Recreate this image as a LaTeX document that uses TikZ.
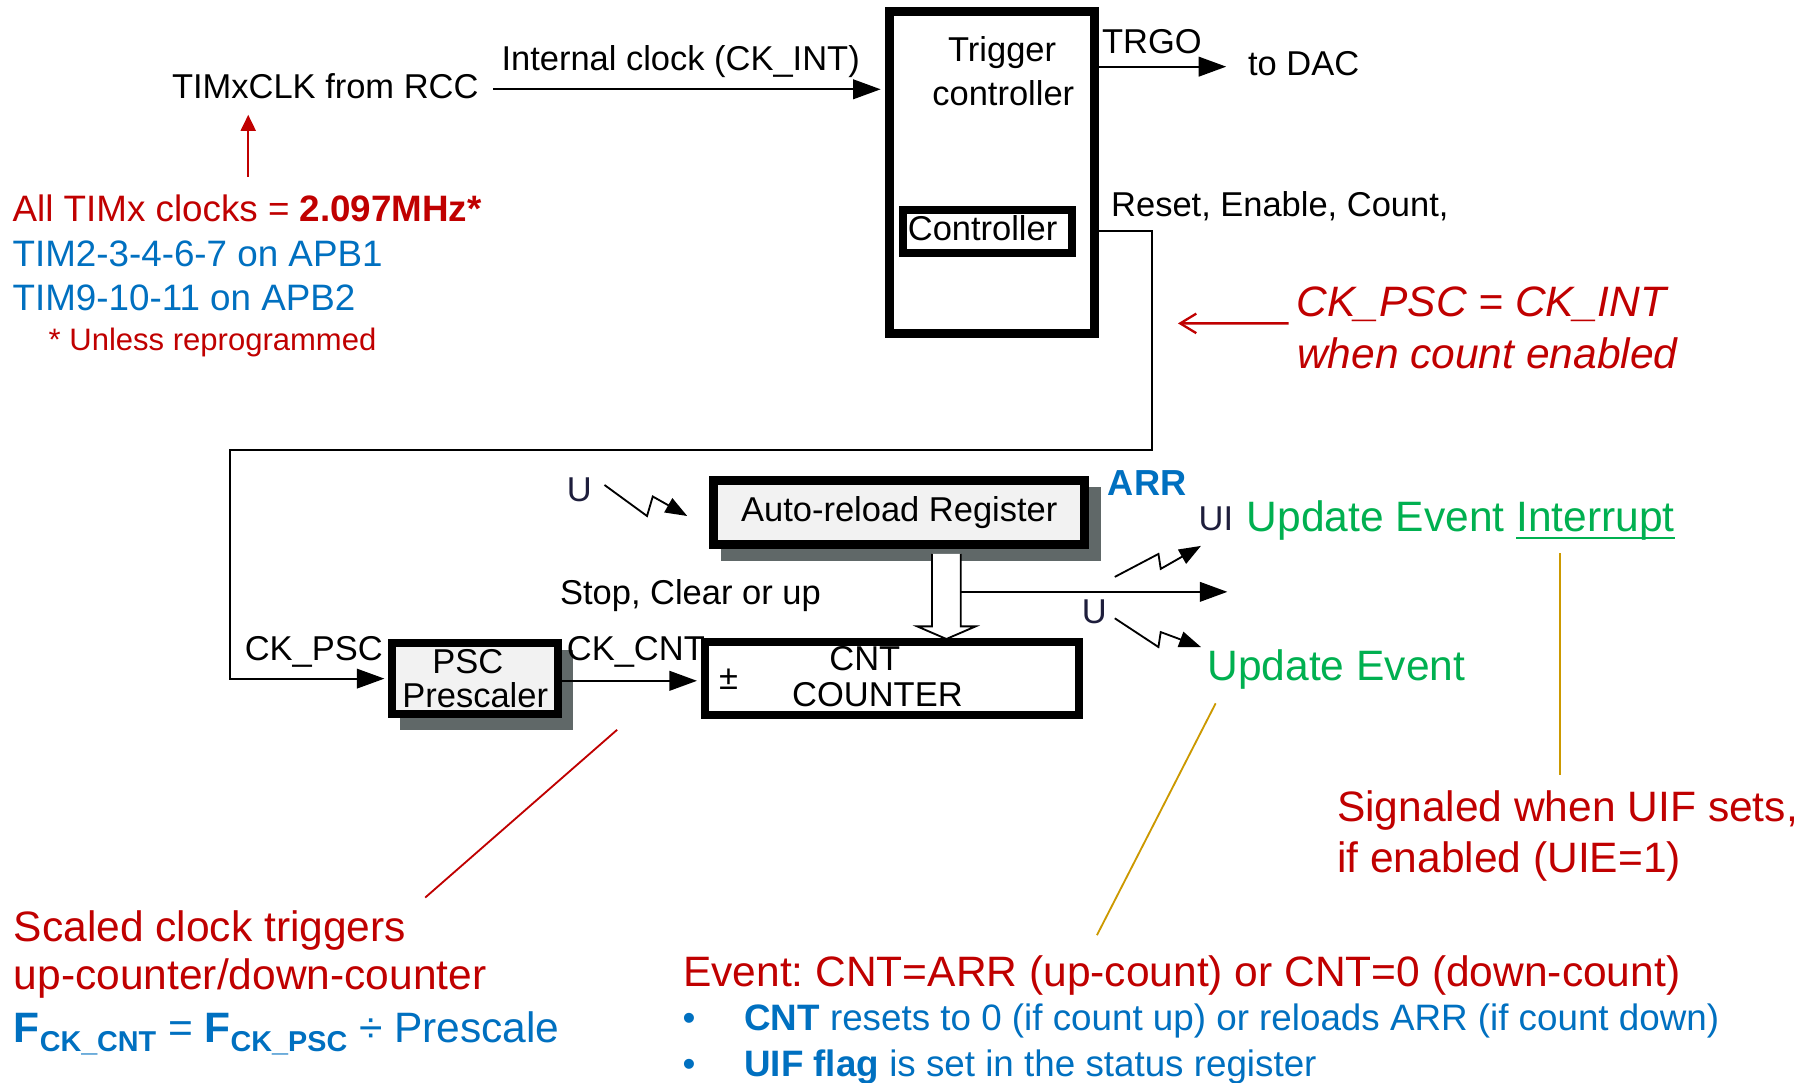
\documentclass[tikz,border=0pt]{standalone}
\usepackage{fontspec}
\setmainfont{Liberation Sans}
\usetikzlibrary{arrows.meta,shadows,calc}
\definecolor{annred}{RGB}{192,0,0}
\definecolor{annblue}{RGB}{0,112,192}
\definecolor{anngreen}{RGB}{0,176,80}
\definecolor{leadgold}{RGB}{204,153,0}
\definecolor{shadegray}{RGB}{96,104,104}
\definecolor{boxfill}{RGB}{242,242,242}
\definecolor{navy}{RGB}{30,30,60}
\newcommand\szDgm{\fontsize{30}{36}\selectfont}
\newcommand\szAnn{\fontsize{37}{44}\selectfont}
\newcommand\szBlue{\fontsize{32}{38}\selectfont}
\newcommand\szNote{\fontsize{27}{32}\selectfont}
\newcommand\szSub{\fontsize{25}{30}\selectfont}
\frenchspacing
\begin{document}
\begin{tikzpicture}[x=1pt,y=-1pt,
  lbl/.style={inner sep=0pt, outer sep=0pt},
  dgm/.style={lbl, font=\szDgm, text=black},
  ann/.style={lbl, font=\szAnn},
  note/.style={lbl, font=\szBlue},
  blockbox/.style={draw=black, fill=white, inner sep=0pt, line width=7pt},
  boxshadow/.style={copy shadow={shadow xshift=10pt, shadow yshift=-10pt, fill=shadegray, draw=shadegray}},
  wire/.style={draw=black, line width=2pt},
  feed/.style={draw=black, line width=1.7pt},
  tipped/.style={-{Triangle[length=24pt,width=17pt]}},
  bolt/.style={draw=black, line width=1.6pt, -{Triangle[length=19pt,width=14pt]}},
  leader/.style={line width=1.6pt},
]
\fill[white] (0,0) rectangle (1568,942);
\useasboundingbox (0,0) rectangle (1568,942);

% ---------- blocks ----------
\node[blockbox, line width=7.5pt, minimum width=178.5pt, minimum height=280.5pt] (trig) at (863,150) {};
\node[blockbox, minimum width=147pt, minimum height=37pt] (ctrl) at (859,201.4) {};
\node[blockbox, boxshadow, fill=boxfill, line width=8pt, minimum width=323pt, minimum height=56pt] (arr) at (782.5,446) {};
\node[blockbox, boxshadow, fill=boxfill, minimum width=144pt, minimum height=62pt] (psc) at (413.5,590.5) {};
\node[blockbox, minimum width=325pt, minimum height=63pt] (cnt) at (776,590.4) {};

\node[dgm, anchor=base] (trigA) at (872,53.7) {Trigger};
\node[dgm, anchor=base] (trigB) at (873,91.4) {controller};
\node[dgm, anchor=base] (ctrltxt) at (855,209) {Controller};
\node[dgm, anchor=base] (arrtxt) at (782.5,454) {Auto-reload Register};
\node[dgm, anchor=base] (psctxtA) at (407,586) {PSC};
\node[dgm, anchor=base] (psctxtB) at (413.5,616) {Prescaler};
\node[dgm, anchor=base] (cnttxtA) at (752.5,583) {CNT};
\node[dgm, anchor=base] (cnttxtB) at (763.5,615) {COUNTER};
\node[dgm, anchor=base] (pm) at (634,600) {±};

% ---------- clock input ----------
\node[dgm, anchor=base west] (clk) at (149.7,85.6) {TIMxCLK from RCC};
\node[dgm, anchor=base west] (ckint) at (436.4,61) {Internal clock (CK\_INT)};
\coordinate (clkport) at (429,77.7);
\draw[wire, tipped, shorten >=3.7pt] (clkport) -- (clkport -| trig.west);

% ---------- trigger output ----------
\coordinate (dacport) at (1067,58);
\draw[wire, tipped] (trig.east |- dacport) -- (dacport);
\node[dgm, anchor=base west] (trgo) at (959,46.4) {TRGO};
\node[dgm, anchor=base west] (dac) at (1086,66.1) {to DAC};

% ---------- controller to prescaler ----------
\node[dgm, anchor=base west] (rec) at (966.9,188) {Reset, Enable, Count,};
\coordinate (fbA) at (1002,201);
\coordinate (fbB) at (1002,391.5);
\coordinate (fbC) at (200,391.5);
\draw[feed, tipped, shorten >=3.5pt] (trig.east |- fbA) -- (fbA) -- (fbB) -- (fbC) |- (psc.west);
\node[dgm, anchor=base west] (ckpsclbl) at (213,574.4) {CK\_PSC};
\node[dgm, anchor=base west] (ckcntlbl) at (493.3,574.4) {CK\_CNT};

% ---------- prescaler to counter ----------
\coordinate (cntY) at (0,592.4);
\draw[wire, tipped, shorten >=3.5pt] (psc.east |- cntY) -- (cnt.west |- cntY);

% ---------- auto-reload to counter ----------
\coordinate (hl) at (811,0);
\coordinate (hr) at (836,0);
\draw[line width=1.6pt, fill=white, line join=miter]
  ($(arr.south -| hl)+(0,4)$) -- (811,545) -- (798,545) -- (823.5,556) -- (849,545) -- (836,545) -- ($(arr.south -| hr)+(0,4)$);
\coordinate (brA) at (836,515);
\coordinate (brB) at (1068,515);
\draw[wire, tipped] (brA) -- (brB);
\node[dgm, anchor=base west] (scu) at (487.4,526) {Stop, Clear or up};

% ---------- update event symbols ----------
\node[dgm, anchor=base west, text=navy] (uA) at (493.3,436.6) {U};
\draw[bolt] (526,422) -- (563,449) -- (568,432) -- (598,449);
\node[dgm, anchor=base west, text=navy] (ui) at (1043,461.9) {UI};
\draw[bolt] (970,502) -- (1008,482) -- (1010,495) -- (1045,475);
\node[dgm, anchor=base west, text=navy] (uB) at (941.3,542.5) {U};
\draw[bolt] (970,538) -- (1008,563) -- (1010,550) -- (1045,563);
\node[lbl, font=\fontsize{31.5}{36}\selectfont\bfseries, text=annblue, anchor=base west] (arrlbl) at (964,430.8) {ARR};

% ---------- annotations ----------
\node[note, text=annred, anchor=base west] (allclk) at (11,193) {All TIMx clocks = \textbf{2.097MHz*}};
\node[note, text=annblue, anchor=base west] (apb1) at (11,232) {TIM2-3-4-6-7 on APB1};
\node[note, text=annblue, anchor=base west] (apb2) at (11,270.4) {TIM9-10-11 on APB2};
\node[lbl, font=\szNote, text=annred, anchor=base west] (unless) at (42.4,304.6) {* Unless reprogrammed};
\coordinate (upfoot) at (216,154);
\draw[annred, line width=2pt, -{Triangle[length=14pt,width=13pt]}] (upfoot) -- ($(upfoot |- clk.south)+(0,14)$);

\node[ann, font=\szAnn\itshape, text=annred, anchor=base west] (ckpsc) at (1128.2,275.6) {CK\_PSC = CK\_INT};
\node[ann, font=\szAnn\itshape, text=annred, anchor=base west] (ckwhen) at (1128.6,320.6) {when count enabled};
\coordinate (pscmark) at (1025,281.4);
\draw[annred, line width=2pt, -{Straight Barb[length=14pt,width=17pt]}] ($(ckpsc.base west)+(-7,5.8)$) -- (pscmark);

\node[ann, text=anngreen, anchor=base west] (uei) at (1085,462.8) {Update Event};
\node[ann, text=anngreen, anchor=base west] (intr) at ($(uei.base east)+(10.3,0)$) {Interrupt};
\draw[anngreen, line width=1.8pt] ($(intr.base west)+(0,5.7)$) -- ($(intr.base east)+(0,5.7)$);
\node[ann, text=anngreen, anchor=base west] (ue) at (1050.7,591.8) {Update Event};

\node[ann, text=annred, anchor=base west] (sigA) at (1163.4,715) {Signaled when UIF sets,};
\node[ann, text=annred, anchor=base west] (sigB) at (1163.4,759) {if enabled (UIE=1)};
\coordinate (gA) at (1357.6,481.6);
\coordinate (gB) at (1357.6,674.5);
\draw[leadgold, leader] (gA) -- (gB);
\coordinate (gC) at (1057.8,612);
\coordinate (gD) at (954.5,813.7);
\draw[leadgold, leader] (gC) -- (gD);

\node[ann, text=annred, anchor=base west] (scA) at (12,819) {Scaled clock triggers};
\node[ann, text=annred, anchor=base west] (scB) at (12,861) {up-counter/down-counter};
\node[ann, text=annblue, anchor=base west] (fcnt) at (12,907)
  {\textbf{F}\raisebox{-8pt}{\szSub\bfseries CK\_CNT} = \textbf{F}\raisebox{-8pt}{\szSub\bfseries CK\_PSC} ÷ Prescale};
\coordinate (rA) at (537,635);
\coordinate (rB) at (370,781);
\draw[annred, leader] (rA) -- (rB);

\node[ann, text=annred, anchor=base west] (evt) at (594.4,858) {Event: CNT=ARR (up-count) or CNT=0 (down-count)};
\node[note, text=annblue, anchor=base west] (bulA) at (594,897) {•};
\node[note, text=annblue, anchor=base west] (evA) at (647.6,897) {\textbf{CNT} resets to 0 (if count up) or reloads ARR (if count down)};
\node[note, text=annblue, anchor=base west] (bulB) at (594,937) {•};
\node[note, text=annblue, anchor=base west] (evB) at (647.6,937) {\textbf{UIF flag} is set in the status register};
\end{tikzpicture}
\end{document}
